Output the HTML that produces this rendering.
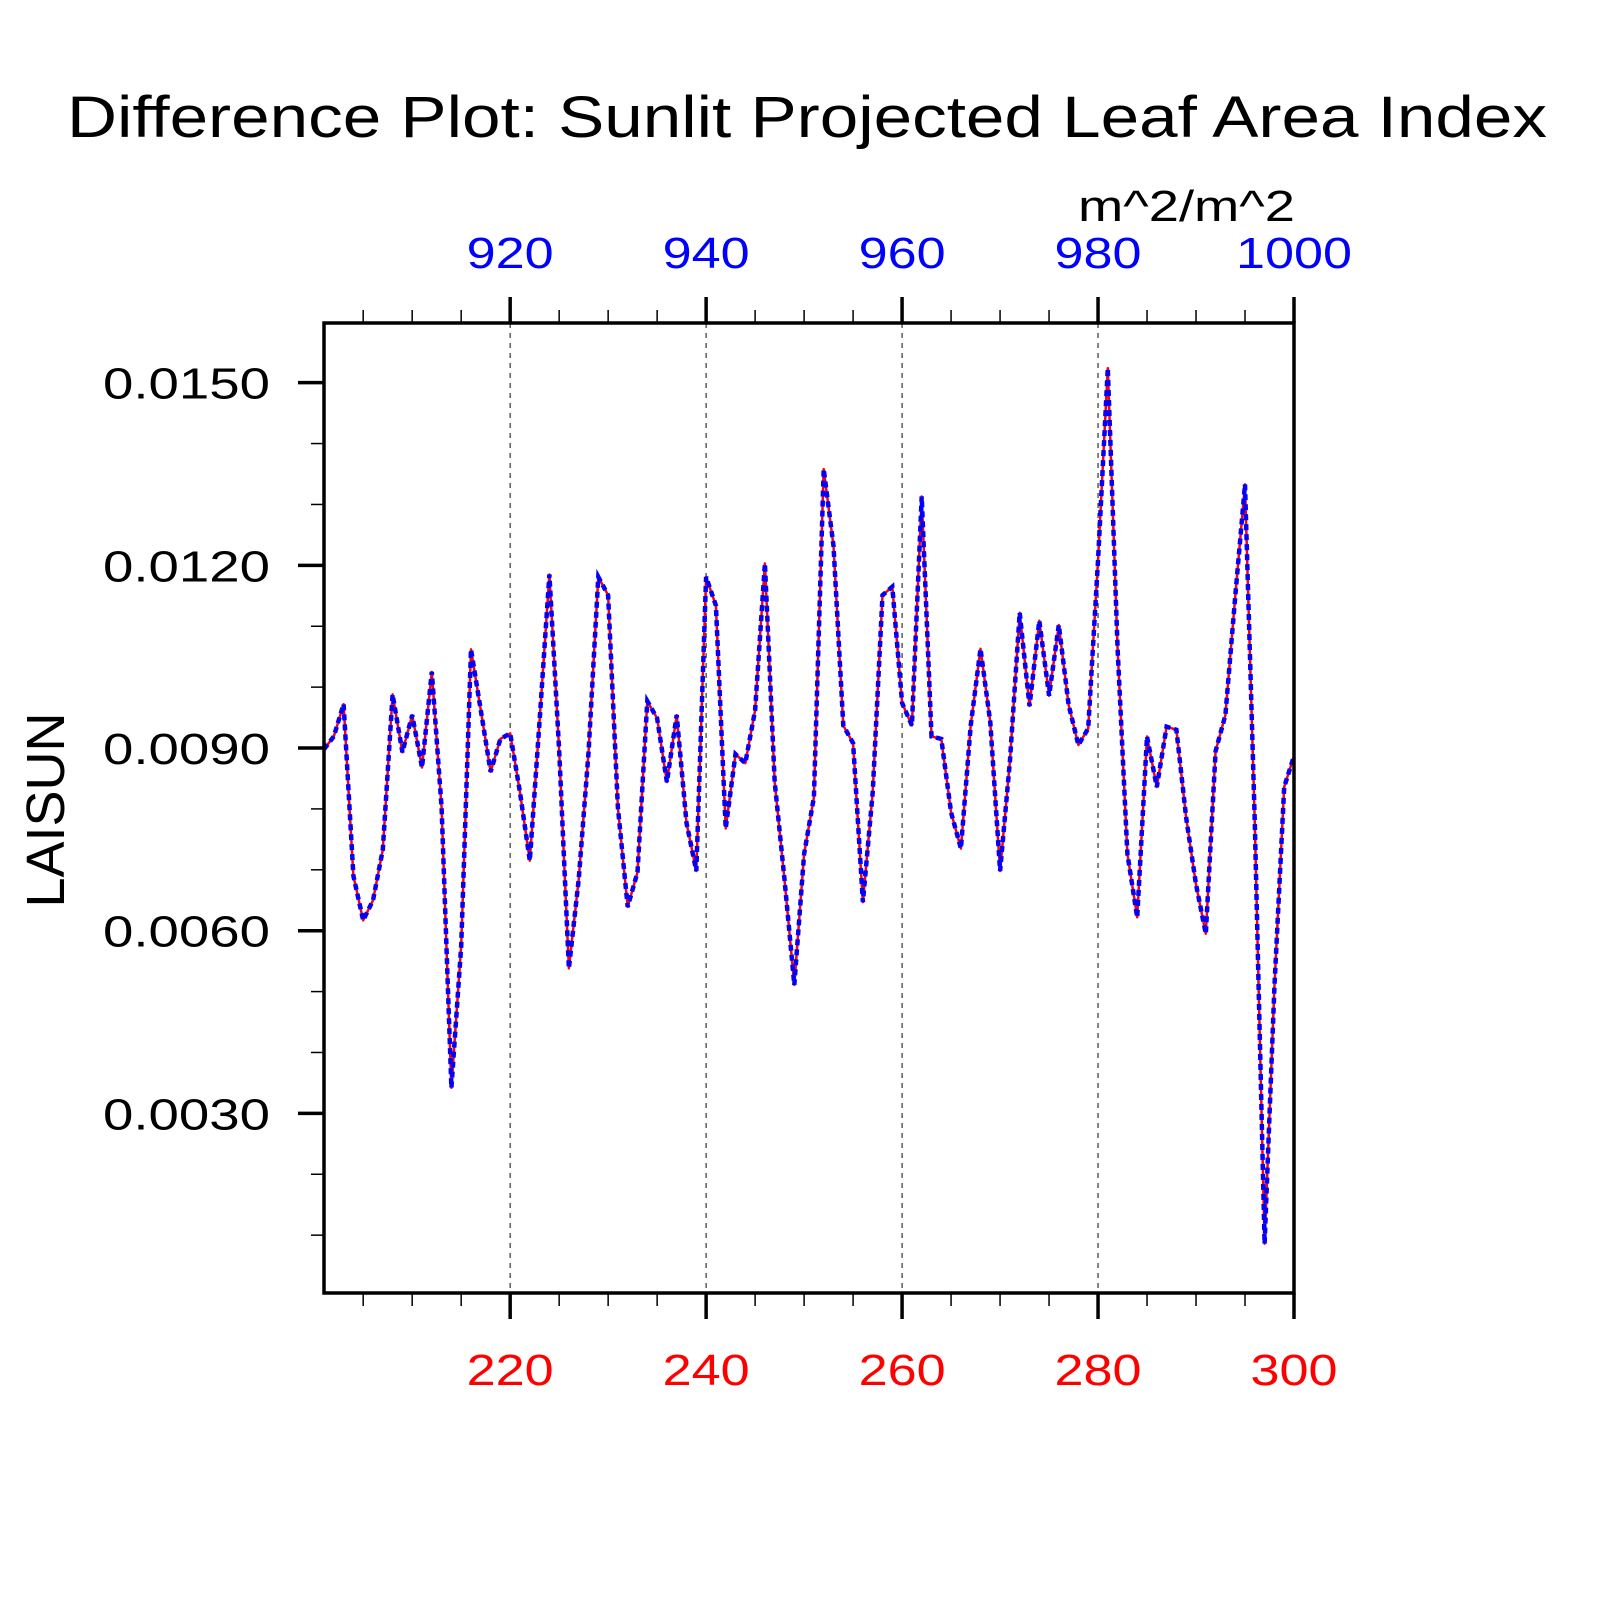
<!DOCTYPE html>
<html><head><meta charset="utf-8"><style>
html,body{margin:0;padding:0;background:#fff}
svg{display:block;font-family:"Liberation Sans",sans-serif}
</style></head><body>
<svg id="chart" width="1620" height="1620" viewBox="0 0 1620 1620" xmlns="http://www.w3.org/2000/svg">
<rect width="1620" height="1620" fill="#fff"/>
<text x="67" y="137" font-size="58" textLength="1480" lengthAdjust="spacingAndGlyphs" fill="#000">Difference Plot: Sunlit Projected Leaf Area Index</text>
<text x="1078" y="221" font-size="44" textLength="217" lengthAdjust="spacingAndGlyphs" fill="#000">m^2/m^2</text>
<text transform="translate(64,810) rotate(-90)" font-size="54" text-anchor="middle" fill="#000">LAISUN</text>
<g id="grid"></g>
<g id="ticks"></g>
<g id="labels"></g>
<g id="series"></g>
<rect x="324" y="323" width="970" height="970" fill="none" stroke="#000" stroke-width="3.5"/>
</svg>
<script>
const xs = [];
for (let i = 201; i <= 300; i++) xs.push(i);
const laisunA = [8.98,9.19,9.72,6.9,6.17,6.5,7.33,9.88,8.93,9.54,8.68,10.25,8.02,3.42,5.75,10.62,9.62,8.61,9.15,9.24,
8.27,7.15,9.45,11.85,8.95,5.38,6.84,8.92,11.81,11.51,8.02,6.39,6.96,9.77,9.49,8.44,9.54,7.77,6.98,11.81,
11.34,7.68,8.9,8.75,9.62,12.03,8.44,6.84,5.11,7.26,8.19,13.58,12.32,9.37,9.08,6.47,8.27,11.51,11.65,9.74,
9.37,13.13,9.19,9.15,7.94,7.35,9.37,10.63,9.42,6.98,8.78,11.22,9.69,11.09,9.86,11.02,9.71,9.05,9.32,12.07,
15.24,10.63,7.26,6.22,9.19,8.36,9.35,9.3,7.85,6.76,5.95,8.95,9.54,11.48,13.33,7.77,0.86,5.07,8.36,8.87];
const laisunB = laisunA.slice();
const bottomTicks = [220,240,260,280,300];
const bottomTickLabels = ["220","240","260","280","300"];
const topTickLabels = ["920","940","960","980","1000"];
const yTicks = [0.003,0.006,0.009,0.012,0.015];
const yTickLabels = ["0.0030","0.0060","0.0090","0.0120","0.0150"];

const L=324,R=1294,T=323,B=1293, XMIN=201, XMAX=300, YMIN=0.00005, YMAX=0.01598;
const sx = x => L + (x - XMIN) / (XMAX - XMIN) * (R - L);
const sy = v => B - (v - YMIN) / (YMAX - YMIN) * (B - T);
const NS = "http://www.w3.org/2000/svg";
function mk(tag, parent, attrs){const e=document.createElementNS(NS,tag);for(const k in attrs)e.setAttribute(k,attrs[k]);parent.appendChild(e);return e;}
const grid=document.getElementById('grid'), ticks=document.getElementById('ticks'), labels=document.getElementById('labels'), series=document.getElementById('series');

bottomTicks.forEach((t,i)=>{
  const x=sx(t);
  if (t<XMAX){
    const g=mk('line',grid,{x1:x,x2:x,y1:T,y2:B,stroke:'#333','stroke-width':1.2,'stroke-dasharray':'5,5'});
    
    
  }
  const a=mk('line',ticks,{x1:x,x2:x,y1:B,y2:B+26,stroke:'#000','stroke-width':3.5});
  
  
  const b=mk('line',ticks,{x1:x,x2:x,y1:T,y2:T-26,stroke:'#000','stroke-width':3.5});
  
  
  const wb = bottomTickLabels[i].length*29;
  const tb=mk('text',labels,{x:x-wb/2,y:1385,'font-size':44,textLength:wb,lengthAdjust:'spacingAndGlyphs',fill:'#ff0000'});
  tb.textContent=bottomTickLabels[i];
  
  
  const wt = topTickLabels[i].length*29;
  const tt=mk('text',labels,{x:x-wt/2,y:268,'font-size':44,textLength:wt,lengthAdjust:'spacingAndGlyphs',fill:'#0000ff'});
  tt.textContent=topTickLabels[i];
  
  
});
for(let t=205;t<300;t+=5){
  if(t%20===0) continue;
  const x=sx(t);
  const a=mk('line',ticks,{x1:x,x2:x,y1:B,y2:B+13,stroke:'#000','stroke-width':1.5});
  
  
  const b=mk('line',ticks,{x1:x,x2:x,y1:T,y2:T-13,stroke:'#000','stroke-width':1.5});
  
  
}
yTicks.forEach((v,i)=>{
  const y=sy(v);
  const a=mk('line',ticks,{x1:L,x2:L-26,y1:y,y2:y,stroke:'#000','stroke-width':3.5});
  
  
  const t=mk('text',labels,{x:103,y:y+16,'font-size':44,textLength:167,lengthAdjust:'spacingAndGlyphs',fill:'#000'});
  t.textContent=yTickLabels[i];
  
  
});
for(let k=1;k<=15;k++){
  if(k%3===0) continue;
  const y=sy(k/1000);
  const a=mk('line',ticks,{x1:L,x2:L-13,y1:y,y2:y,stroke:'#000','stroke-width':1.5});
  
  
}
const ptsA=xs.map((x,i)=>sx(x).toFixed(1)+','+sy(laisunA[i]/1000).toFixed(1)).join(' ');
const ptsB=xs.map((x,i)=>sx(x).toFixed(1)+','+sy(laisunB[i]/1000).toFixed(1)).join(' ');
const la=mk('polyline',series,{points:ptsA,fill:'none',stroke:'#ff0000','stroke-width':2.5,'stroke-linejoin':'round'});


const lb=mk('polyline',series,{points:ptsB,fill:'none',stroke:'#0000ff','stroke-width':4.5,'stroke-dasharray':'6,4'});


</script>
</body></html>
